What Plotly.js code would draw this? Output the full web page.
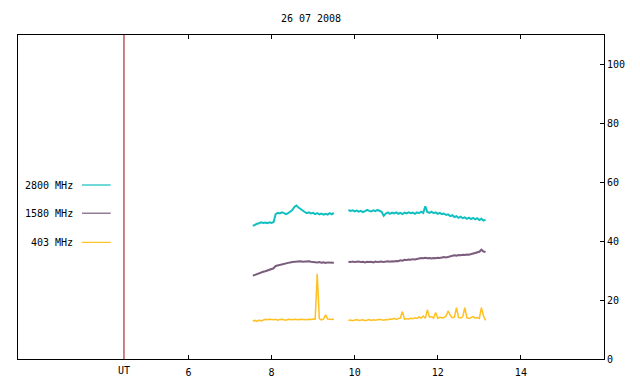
<!DOCTYPE html>
<html>
<head>
<meta charset="utf-8">
<script src="https://cdn.plot.ly/plotly-3.0.1.min.js"></script>
<style>html,body{margin:0;padding:0;background:#fff;}#chart{width:640px;height:384px;}</style>
</head>
<body>
<div id="chart"></div>
<script>
// Time (UT hours), two observing segments
const timesA = [7.55,7.60,7.65,7.70,7.75,7.80,7.85,7.90,7.95,8.00,
  8.05,8.10,8.15,8.20,8.25,8.30,8.35,8.40,8.45,8.50,
  8.55,8.60,8.65,8.70,8.75,8.80,8.85,8.90,8.95,9.00,
  9.05,9.10,9.15,9.20,9.25,9.30,9.35,9.40,9.45,9.50];
const timesB = [9.85,9.90,9.95,10.00,10.05,10.10,10.15,10.20,10.25,10.30,
  10.35,10.40,10.45,10.50,10.55,10.60,10.65,10.70,10.75,10.80,
  10.85,10.90,10.95,11.00,11.05,11.10,11.15,11.20,11.25,11.30,
  11.35,11.40,11.45,11.50,11.55,11.60,11.65,11.70,11.75,11.80,
  11.85,11.90,11.95,12.00,12.05,12.10,12.15,12.20,12.25,12.30,
  12.35,12.40,12.45,12.50,12.55,12.60,12.65,12.70,12.75,12.80,
  12.85,12.90,12.95,13.00,13.05,13.10,13.15];

const f2800A = [45.2,45.6,45.9,46.1,46.4,46.2,46.3,46.1,46.4,46.2,
  46.5,49.2,49.6,49.4,49.8,49.5,49.2,49.5,50.0,50.6,
  51.6,52.1,51.4,50.8,50.3,49.9,49.5,49.8,49.4,49.6,
  49.2,49.5,49.1,49.4,49.0,49.3,49.0,49.5,49.1,49.6];
const f2800B = [50.6,50.3,50.5,50.1,50.4,50.0,50.3,49.9,50.2,50.6,
  50.3,50.1,50.5,50.2,50.6,50.4,50.0,48.6,49.4,49.8,
  49.3,49.7,49.4,49.8,49.3,49.6,49.2,49.7,49.4,49.8,
  49.5,49.7,49.3,49.8,49.5,50.0,49.6,51.8,49.9,49.6,
  50.0,49.5,49.8,49.3,49.6,49.2,49.4,48.9,49.1,48.5,
  48.8,48.2,48.5,47.9,48.3,47.8,48.1,47.6,48.0,47.5,
  47.9,47.4,47.8,47.2,47.6,47.0,47.3];

const f1580A = [28.3,28.6,28.8,29.1,29.3,29.6,29.8,30.1,30.3,30.5,
  30.8,31.6,31.8,32.0,32.2,32.3,32.5,32.6,32.8,32.9,
  33.0,33.1,33.0,33.2,33.0,33.1,33.0,33.2,33.0,32.9,
  33.0,32.8,32.9,32.7,32.8,32.6,32.8,32.7,32.8,32.7];
const f1580B = [33.0,32.9,33.1,32.9,33.0,33.1,32.9,33.0,32.8,33.0,
  32.9,33.0,32.8,33.1,32.9,33.0,33.1,32.9,33.0,33.2,
  33.0,33.2,33.1,33.3,33.2,33.5,33.4,33.7,33.6,33.8,
  33.7,33.9,33.8,34.0,34.1,34.3,34.2,34.4,34.2,34.3,
  34.1,34.3,34.2,34.4,34.3,34.5,34.6,34.5,34.7,34.9,
  35.0,35.2,35.1,35.3,35.2,35.4,35.3,35.5,35.4,35.6,
  35.7,35.9,36.1,36.4,37.1,36.5,36.3];

const f403A = [12.9,13.1,12.8,13.2,12.9,13.3,13.5,13.3,13.5,13.4,
  13.3,13.5,13.2,13.4,13.5,13.3,13.2,13.5,13.4,13.3,
  13.5,13.4,13.3,13.5,13.4,13.5,13.3,13.5,13.4,13.6,
  13.5,28.9,13.7,13.3,13.5,15.0,13.6,13.5,13.4,13.6];
const f403B = [13.1,13.2,13.0,13.3,13.4,13.1,13.2,13.3,13.0,13.2,
  13.4,13.1,13.3,13.2,13.4,13.5,13.3,13.2,13.4,13.3,
  13.6,13.5,13.8,13.4,13.7,13.9,16.1,13.5,13.7,13.6,
  13.8,13.7,14.0,13.8,14.3,13.9,14.6,13.8,16.7,14.2,
  14.4,13.9,15.8,13.8,14.2,13.9,14.1,14.6,16.3,14.8,
  14.0,14.2,17.4,14.1,13.9,14.3,17.4,14.0,13.8,14.2,
  14.4,13.9,14.1,13.8,17.4,14.6,13.1];

const seriesNames = ['2800 MHz','1580 MHz','403 MHz'];
const seriesColors = ['#10c0c0','#7b5c7d','#ffc020'];
const seriesWidths = [2, 2, 1.5];
const xTickVals = [6,8,10,12,14];
const yTickVals = [0,20,40,60,80,100];
const utMarker = 4.45;
const titleText = '26 07 2008';

const MONO = 'DejaVu Sans Mono, Liberation Mono, monospace';
const xs = timesA.concat([null], timesB);
const ys = [f2800A.concat([null], f2800B), f1580A.concat([null], f1580B), f403A.concat([null], f403B)];

const traces = ys.map((y, i) => ({
  x: xs, y: y, type: 'scatter', mode: 'lines', name: seriesNames[i],
  line: {color: seriesColors[i], width: seriesWidths[i]}, connectgaps: false, hoverinfo: 'skip'
}));

// gnuplot-style key: text then line sample
const keyY = [0.537, 0.450, 0.360];
const annotations = seriesNames.map((n, i) => ({
  xref: 'paper', yref: 'paper', x: 0.0973, y: keyY[i], xanchor: 'right', yanchor: 'middle',
  text: n, showarrow: false, font: {family: MONO, size: 10, color: '#000'}
}));
annotations.push({
  xref: 'x', yref: 'paper', x: utMarker, y: 0, xanchor: 'center', yanchor: 'top', yshift: -4,
  text: 'UT', showarrow: false, font: {family: MONO, size: 10, color: '#000'}
});
const shapes = seriesNames.map((n, i) => ({
  type: 'line', xref: 'paper', yref: 'paper', x0: 0.1092, x1: 0.1582, y0: keyY[i], y1: keyY[i],
  line: {color: seriesColors[i], width: 1.2}
}));
shapes.push({type: 'line', xref: 'x', yref: 'paper', x0: utMarker, x1: utMarker, y0: 0, y1: 1,
  line: {color: '#a00000', width: 1}});

const layout = {
  width: 640, height: 384,
  margin: {l: 18, r: 36, t: 35, b: 25, pad: 0},
  paper_bgcolor: '#fff', plot_bgcolor: '#fff',
  showlegend: false,
  title: {text: titleText, font: {family: MONO, size: 10, color: '#000'},
    x: 0.5, xref: 'paper', y: 1 - 18/384, yanchor: 'middle'},
  xaxis: {range: [1.9, 16], tickvals: xTickVals, ticks: 'inside', ticklen: 4, tickcolor: '#000',
    ticklabelstandoff: 4,
    showline: true, linecolor: '#000', linewidth: 1, mirror: 'ticks', showgrid: false, zeroline: false,
    tickfont: {family: MONO, size: 10, color: '#000'}},
  yaxis: {range: [0, 110], side: 'right', tickvals: yTickVals, ticks: 'inside', ticklen: 4, tickcolor: '#000',
    showline: true, linecolor: '#000', linewidth: 1, mirror: true, showgrid: false, zeroline: false,
    tickfont: {family: MONO, size: 10, color: '#000'}},
  annotations: annotations,
  shapes: shapes
};

Plotly.newPlot('chart', traces, layout, {staticPlot: true, displayModeBar: false});
</script>
</body>
</html>
